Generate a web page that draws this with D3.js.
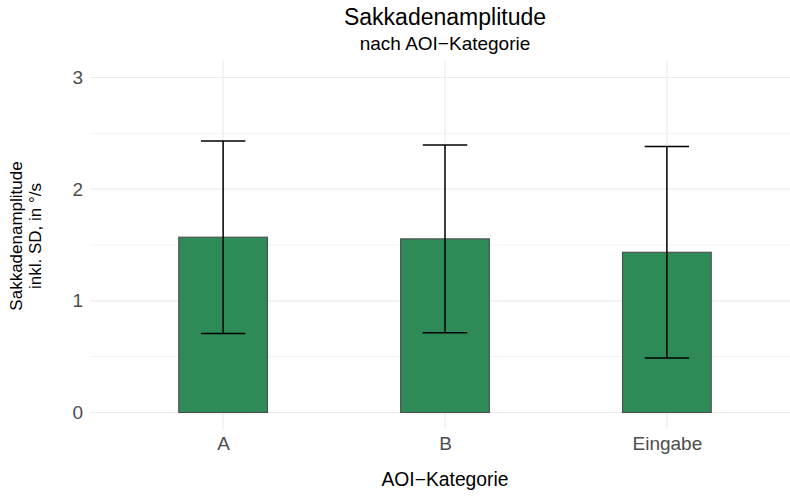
<!DOCTYPE html>
<html><head><meta charset="utf-8">
<script src="https://cdn.jsdelivr.net/npm/d3@7"></script>
<style>body{margin:0;background:#fff}svg{display:block}text{font-family:"Liberation Sans",Arial,sans-serif}</style>
</head><body><svg id="c" width="790" height="496"></svg>
<script>
const categories = ["A", "B", "Eingabe"];
const means = [1.57, 1.555, 1.435];
const sds = [0.862, 0.84, 0.948];
const yTicks = [0, 1, 2, 3];
const yMinor = [0.5, 1.5, 2.5];
const title = "Sakkadenamplitude";
const subtitle = "nach AOI\u2212Kategorie";
const xTitle = "AOI\u2212Kategorie";
const yTitle = ["Sakkadenamplitude", "inkl. SD, in °/s"];

const svg = d3.select("#c");
const pl = 90, pr = 800, pt = 60.75, pb = 429.25;
const x = d3.scalePoint().domain(categories).range([pl, pr]).padding(0.6);
const y = d3.scaleLinear().domain([-0.15, 3.15]).range([pb, pt]);
const unit = x.step();

const g = svg.append("g");
g.selectAll(".ymin").data(yMinor).join("line")
  .attr("x1", pl).attr("x2", pr).attr("y1", d => y(d)).attr("y2", d => y(d))
  .attr("stroke", "#EBEBEB").attr("stroke-width", 0.6);
g.selectAll(".ymaj").data(yTicks).join("line")
  .attr("x1", pl).attr("x2", pr).attr("y1", d => y(d)).attr("y2", d => y(d))
  .attr("stroke", "#EBEBEB").attr("stroke-width", 1.1);
g.selectAll(".xmaj").data(categories).join("line")
  .attr("x1", d => x(d)).attr("x2", d => x(d)).attr("y1", pt).attr("y2", pb)
  .attr("stroke", "#EBEBEB").attr("stroke-width", 1.1);

const data = categories.map((c, i) => ({c, m: means[i], sd: sds[i]}));
g.selectAll(".bar").data(data).join("rect")
  .attr("x", d => x(d.c) - unit * 0.2).attr("width", unit * 0.4)
  .attr("y", d => y(d.m)).attr("height", d => y(0) - y(d.m))
  .attr("fill", "#2E8B57").attr("stroke", "#4D4D4D").attr("stroke-width", 1.1);
const eb = g.selectAll(".eb").data(data).join("g").attr("stroke", "#000").attr("stroke-width", 1.5);
eb.append("line").attr("x1", d => x(d.c)).attr("x2", d => x(d.c))
  .attr("y1", d => y(d.m + d.sd)).attr("y2", d => y(d.m - d.sd));
eb.append("line").attr("x1", d => x(d.c) - unit * 0.1).attr("x2", d => x(d.c) + unit * 0.1)
  .attr("y1", d => y(d.m + d.sd)).attr("y2", d => y(d.m + d.sd));
eb.append("line").attr("x1", d => x(d.c) - unit * 0.1).attr("x2", d => x(d.c) + unit * 0.1)
  .attr("y1", d => y(d.m - d.sd)).attr("y2", d => y(d.m - d.sd));

const ya = d3.axisLeft(y).tickValues(yTicks).tickSize(0).tickPadding(7).tickFormat(d3.format("d"));
const yg = svg.append("g").attr("transform", `translate(${pl},0)`).call(ya);
yg.select(".domain").remove();
yg.selectAll("text").attr("fill", "#4D4D4D").style("font-size", "19px");

const xa = d3.axisBottom(x).tickSize(0).tickPadding(7);
const xg = svg.append("g").attr("transform", `translate(0,${pb})`).call(xa);
xg.select(".domain").remove();
xg.selectAll("text").attr("fill", "#4D4D4D").style("font-size", "19px");

svg.append("text").attr("x", (pl + pr) / 2).attr("y", 24.5).attr("text-anchor", "middle")
  .style("font-size", "23px").attr("fill", "#000").text(title);
svg.append("text").attr("x", (pl + pr) / 2).attr("y", 49.5).attr("text-anchor", "middle")
  .style("font-size", "19px").attr("fill", "#000").text(subtitle);
svg.append("text").attr("x", (pl + pr) / 2).attr("y", 486).attr("text-anchor", "middle")
  .style("font-size", "19.3px").attr("fill", "#000").text(xTitle);
const yt = svg.append("text").attr("transform", `translate(0,${236}) rotate(-90)`)
  .attr("text-anchor", "middle").style("font-size", "17px").attr("fill", "#000");
yt.selectAll("tspan").data(yTitle).join("tspan").attr("x", 0)
  .attr("y", (d, i) => i === 0 ? 21.5 : 41).text(d => d);
</script></body></html>
